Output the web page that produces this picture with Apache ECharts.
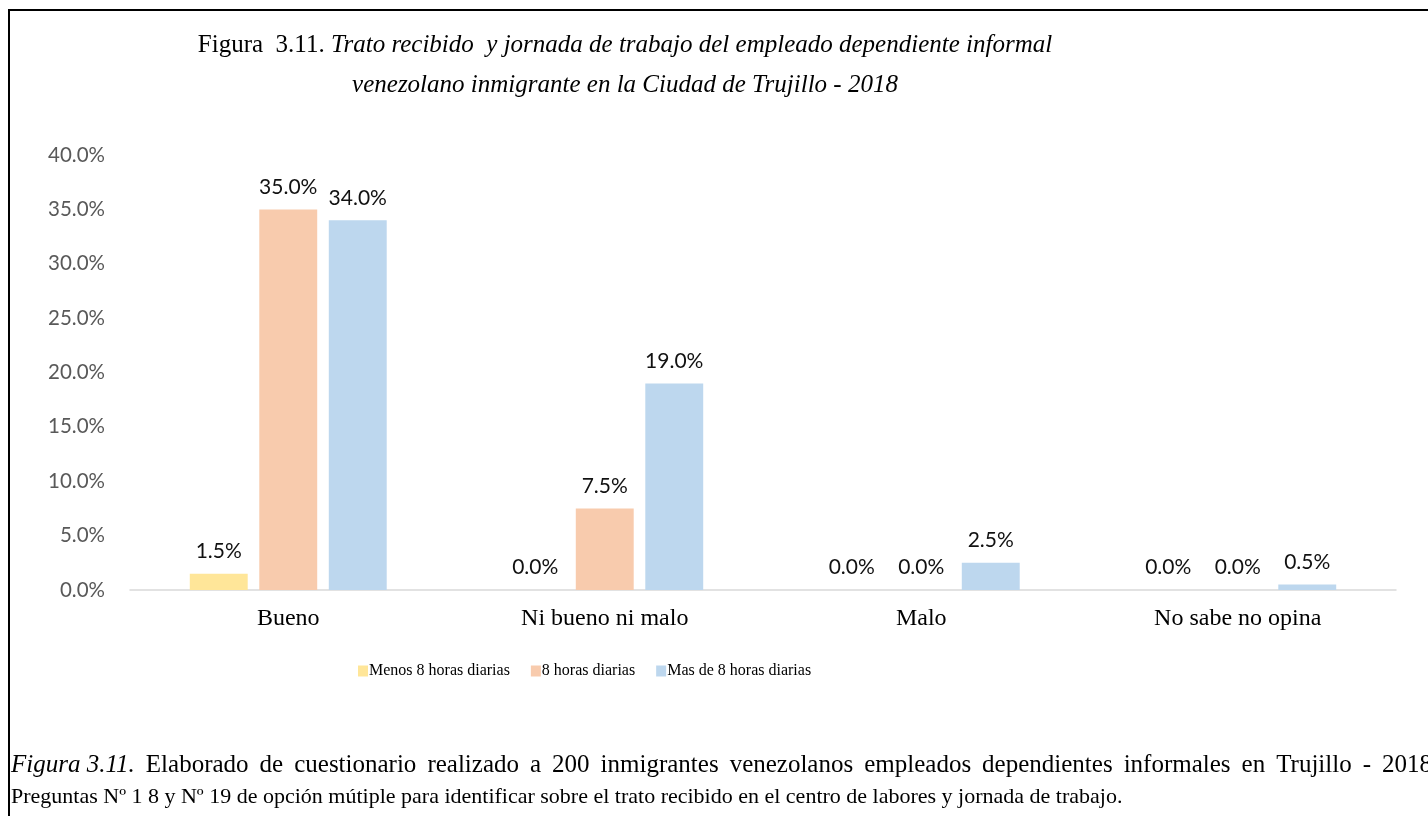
<!DOCTYPE html>
<html>
<head>
<meta charset="utf-8">
<script src="https://cdn.jsdelivr.net/npm/echarts@6/dist/echarts.min.js"></script>
<style>
  html, body { margin: 0; padding: 0; background: #fff; }
  #chart { width: 1428px; height: 816px; }
</style>
</head>
<body>
<div id="chart"></div>
<script>
// Trato recibido (categories) and jornada de trabajo (series), values in %
var categories = ['Bueno', 'Ni bueno ni malo', 'Malo', 'No sabe no opina'];
var seriesNames = ['Menos 8 horas diarias', '8 horas diarias', 'Mas de 8 horas diarias'];
var menos8 = [1.5, 0.0, 0.0, 0.0];
var ocho = [35.0, 7.5, 0.0, 0.0];
var masDe8 = [34.0, 19.0, 2.5, 0.5];
var colors = ['#FFE699', '#F8CBAD', '#BDD7EE'];

var captionLead = 'Figura 3.11.';
var captionLine1 = 'Elaborado de cuestionario realizado a 200 inmigrantes venezolanos empleados dependientes informales en Trujillo - 2018';
var captionLine2 = 'Preguntas Nº 1 8 y Nº 19 de opción mútiple para identificar sobre el trato recibido en el centro de labores y jornada de trabajo.';

var serif = '"Liberation Serif", "DejaVu Serif", serif';
var sans = 'Lato, "Open Sans", sans-serif';

var chart = echarts.init(document.getElementById('chart'));

function barSeries(name, data, color) {
    return {
        name: name,
        type: 'bar',
        data: data,
        barWidth: '18.3%',
        barGap: '20%',
        itemStyle: { color: color },
        label: {
            show: true,
            position: 'top',
            distance: 12,
            fontFamily: sans,
            fontSize: 21,
            color: '#111',
            formatter: function (p) { return p.value.toFixed(1) + '%'; }
        }
    };
}

// caption line 1 is justified to the right edge of the page
function captionFirstLine(y, left, right, size) {
    var ctx = document.createElement('canvas').getContext('2d');
    var words = [{ t: captionLead, it: true }].concat(captionLine1.split(' ').map(function (w) { return { t: w, it: false }; }));
    var total = 0;
    words.forEach(function (w) {
        ctx.font = (w.it ? 'italic ' : '') + size + 'px ' + serif;
        w.w = ctx.measureText(w.t).width;
        total += w.w;
    });
    var gap = (right - left - total) / (words.length - 1);
    var x = left;
    return words.map(function (w) {
        var el = {
            type: 'text',
            style: {
                x: x, y: y, text: w.t, verticalAlign: 'middle',
                fontFamily: serif, fontSize: size, fontStyle: w.it ? 'italic' : 'normal', fill: '#000'
            }
        };
        x += w.w + gap;
        return el;
    });
}

var option = {
    animation: false,
    backgroundColor: '#fff',
    title: {
        text: '{n|Figura  3.11. }{i|Trato recibido  y jornada de trabajo del empleado dependiente informal}\n{i|venezolano inmigrante en la Ciudad de Trujillo - 2018}',
        left: 620,
        top: 20,
        textAlign: 'center',
        textStyle: {
            fontWeight: 'normal',
            rich: {
                n: { fontFamily: serif, fontSize: 25, fontWeight: 'normal', color: '#000', lineHeight: 40 },
                i: { fontFamily: serif, fontSize: 25, fontWeight: 'normal', fontStyle: 'italic', color: '#000', lineHeight: 40 }
            }
        }
    },
    legend: {
        data: seriesNames,
        left: 353,
        top: 658,
        itemWidth: 10,
        itemHeight: 11,
        itemGap: 21,
        icon: 'rect',
        textStyle: { fontFamily: serif, fontSize: 16, color: '#000', padding: [0, 0, 0, -4] }
    },
    grid: {
        left: 130,
        right: 32,
        top: 155,
        bottom: 226
    },
    xAxis: {
        type: 'category',
        data: categories,
        axisLine: { lineStyle: { color: '#d9d9d9', width: 1.5 } },
        axisTick: { show: false },
        axisLabel: { fontFamily: serif, fontSize: 24, color: '#000', margin: 17 }
    },
    yAxis: {
        type: 'value',
        min: 0,
        max: 40,
        interval: 5,
        axisLine: { show: false },
        axisTick: { show: false },
        splitLine: { show: false },
        axisLabel: {
            fontFamily: sans,
            fontSize: 20.5,
            color: '#595959',
            margin: 25,
            formatter: function (v) { return v.toFixed(1) + '%'; }
        }
    },
    series: [
        barSeries(seriesNames[0], menos8, colors[0]),
        barSeries(seriesNames[1], ocho, colors[1]),
        barSeries(seriesNames[2], masDe8, colors[2])
    ],
    graphic: [
        { type: 'line', shape: { x1: 8, y1: 10, x2: 1428, y2: 10 }, style: { stroke: '#000', lineWidth: 2 } },
        { type: 'line', shape: { x1: 9, y1: 10, x2: 9, y2: 816 }, style: { stroke: '#000', lineWidth: 2 } },
        {
            type: 'text',
            style: {
                x: 11, y: 797, text: captionLine2, verticalAlign: 'middle',
                fontFamily: serif, fontSize: 22, fill: '#000'
            }
        }
    ].concat(captionFirstLine(765, 11, 1432, 25))
};

chart.setOption(option);
</script>
</body>
</html>
